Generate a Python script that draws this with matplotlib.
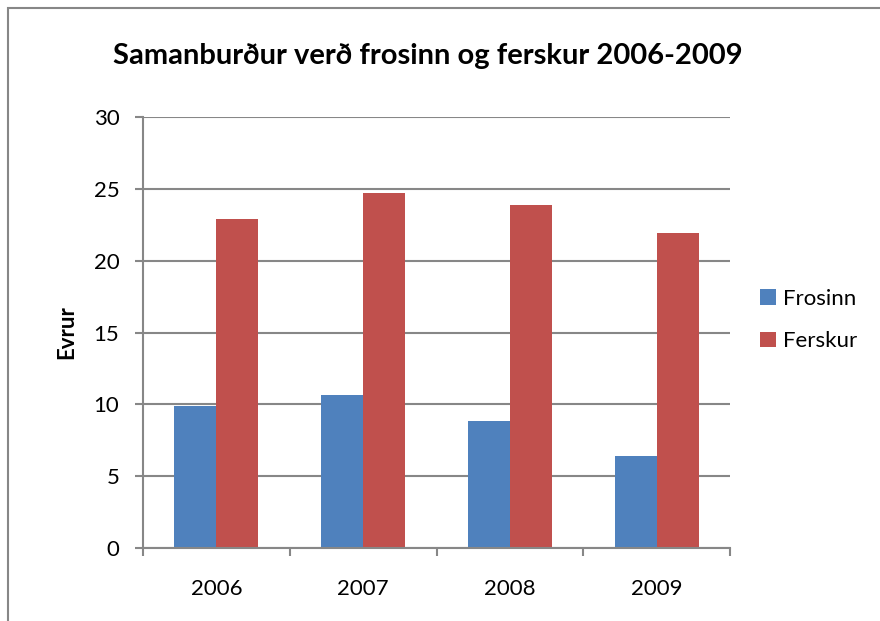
import matplotlib.pyplot as plt
import numpy as np
from matplotlib.patches import Rectangle

years = ['2006', '2007', '2008', '2009']
frosinn = [9.85, 10.67, 8.84, 6.37]
ferskur = [22.92, 24.69, 23.85, 21.9]

plt.rcParams['font.family'] = ['Lato', 'DejaVu Sans']

fig = plt.figure(figsize=(8.8, 6.21), dpi=100)
ax = fig.add_axes([143/880, 1-548/621, 587/880, 431/621])

x = np.arange(len(years))
w = 1/3.5
ax.bar(x - w/2, frosinn, w, color='#4F81BD', label='Frosinn', zorder=3)
ax.bar(x + w/2, ferskur, w, color='#C0504D', label='Ferskur', zorder=3)

ax.set_xlim(-0.5, 3.5)
ax.set_ylim(0, 30)
ax.set_yticks(range(0, 31, 5))
ax.set_xticks(x)
ax.set_xticklabels(years)
ax.set_xticks(np.arange(-0.5, 4, 1), minor=True)
ax.tick_params(axis='x', which='major', length=0, pad=22, labelsize=16)
ax.tick_params(axis='x', which='minor', length=6, color='#878787', width=1.5)
ax.tick_params(axis='y', length=6, color='#878787', width=1.5, pad=11, labelsize=16)
ax.yaxis.grid(True, color='#878787', linewidth=1.5, zorder=0)
for s in ['top', 'right']:
    ax.spines[s].set_visible(False)
for s in ['left', 'bottom']:
    ax.spines[s].set_color('#878787')
    ax.spines[s].set_linewidth(1.5)
ax.spines['bottom'].set_zorder(4)

ax.set_ylabel('Evrur', fontsize=16, fontweight='bold', labelpad=12)
fig.text(428/880, 1-56/621, 'Samanburður verð frosinn og ferskur 2006-2009',
         ha='center', va='center', fontsize=21, fontweight='bold')

ax.legend(loc='center left', bbox_to_anchor=(740/880, 1-320/621), bbox_transform=fig.transFigure,
          frameon=False, fontsize=16, handlelength=0.7, handleheight=0.7,
          handletextpad=0.35, labelspacing=1.0)

fig.patches.append(Rectangle((8/880, -0.1), 1.2, 1.1 - 8/621, transform=fig.transFigure,
                             fill=False, edgecolor='#878787', linewidth=1.5))

fig.savefig('out.png', dpi=100)
